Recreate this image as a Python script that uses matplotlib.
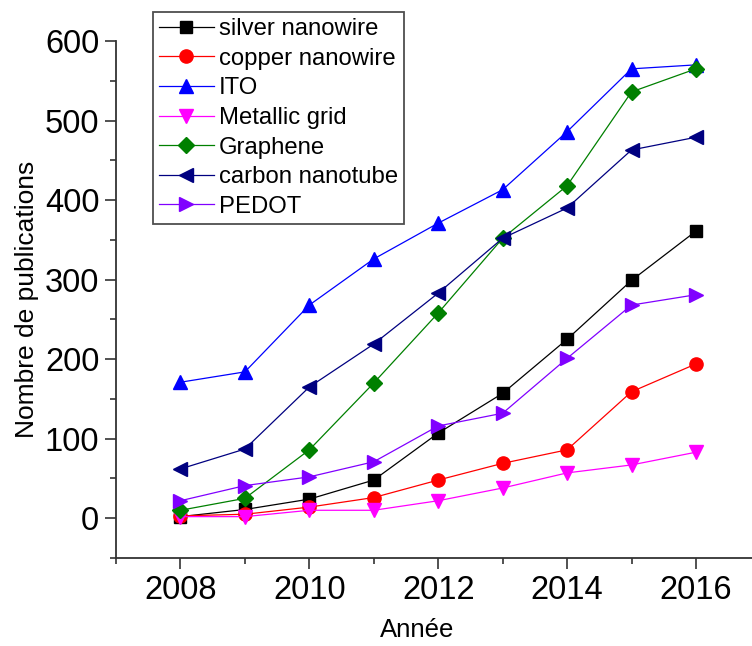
import matplotlib
matplotlib.use("Agg")
import matplotlib.pyplot as plt
from matplotlib.ticker import MultipleLocator

plt.rcParams['font.family'] = ['Liberation Sans', 'DejaVu Sans']

years = [2008, 2009, 2010, 2011, 2012, 2013, 2014, 2015, 2016]
silver = [2, 11, 24, 48, 107, 157, 225, 299, 361]
copper = [3, 5, 14, 26, 48, 69, 86, 159, 194]
ito = [171, 184, 268, 326, 371, 413, 486, 565, 570]
metallic = [2, 2, 10, 10, 22, 38, 57, 67, 83]
graphene = [10, 25, 86, 170, 258, 352, 418, 536, 565]
cnt = [62, 87, 165, 219, 283, 352, 390, 463, 479]
pedot = [22, 41, 52, 71, 116, 132, 201, 268, 281]

series = [
    ("silver nanowire", silver, "#000000", "s", 9),
    ("copper nanowire", copper, "#ff0000", "o", 9.5),
    ("ITO", ito, "#0000ff", "^", 10.5),
    ("Metallic grid", metallic, "#ff00ff", "v", 10.5),
    ("Graphene", graphene, "#008000", "D", 8.5),
    ("carbon nanotube", cnt, "#000080", "<", 10.5),
    ("PEDOT", pedot, "#8000ff", ">", 10.5),
]

fig = plt.figure(figsize=(7.52, 6.46), dpi=100)
ax = fig.add_axes([116/752, (646-558)/646, (752-116)/752, (558-41)/646])

for name, vals, col, mk, ms in series:
    ax.plot(years, vals, color=col, marker=mk, markersize=ms, linewidth=0.9,
            label=name, clip_on=False)

ax.set_xlim(2007, 2016.87)
ax.set_ylim(-50, 600)
ax.xaxis.set_major_locator(MultipleLocator(2))
ax.xaxis.set_minor_locator(MultipleLocator(1))
ax.yaxis.set_major_locator(MultipleLocator(100))
ax.yaxis.set_minor_locator(MultipleLocator(50))

for s in ['top', 'right']:
    ax.spines[s].set_visible(False)
for s in ['left', 'bottom']:
    ax.spines[s].set_linewidth(1.3)
    ax.spines[s].set_color('#333333')

ax.tick_params(which='major', direction='out', length=8, width=1.2,
               labelsize=23.5, colors='#333333', labelcolor='black', pad=4)
ax.tick_params(which='minor', direction='out', length=4, width=1.2,
               colors='#333333')

ax.set_xlabel("Année", fontsize=18.5)
ax.xaxis.set_label_coords((417-116)/636, -(618-558)/517)
ax.set_ylabel("Nombre de publications", fontsize=19, labelpad=4)

leg = fig.legend(loc='upper left', bbox_to_anchor=(153/752, 1-12/646),
                 borderaxespad=0, fontsize=17.2, frameon=True, fancybox=False,
                 handlelength=2.3, handletextpad=0.2, labelspacing=0.32,
                 borderpad=0.25, edgecolor='#222222')
leg.get_frame().set_linewidth(1.3)

fig.savefig("out.png", dpi=100)
